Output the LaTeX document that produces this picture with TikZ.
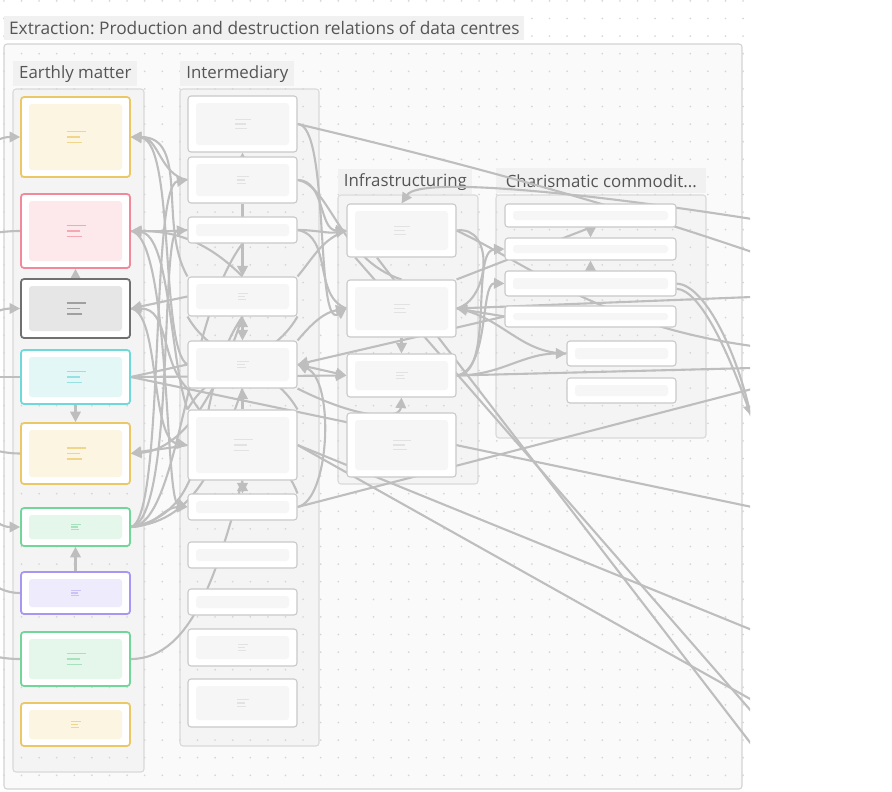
\documentclass[tikz,border=0pt]{standalone}
\usepackage{fontspec}
\setmainfont{Open Sans}
\usetikzlibrary{arrows.meta}
\frenchspacing

\definecolor{yelB}{HTML}{EBC766}
\definecolor{yelF}{HTML}{FCF5E1}
\definecolor{yelI}{HTML}{F0D68A}
\definecolor{redB}{HTML}{F2899A}
\definecolor{redF}{HTML}{FDE8EB}
\definecolor{redI}{HTML}{F5A8B4}
\definecolor{gryB}{HTML}{707070}
\definecolor{gryF}{HTML}{E6E6E6}
\definecolor{gryI}{HTML}{A0A0A0}
\definecolor{cynB}{HTML}{6FD8D8}
\definecolor{cynF}{HTML}{E3F7F6}
\definecolor{cynI}{HTML}{96E2E2}
\definecolor{grnB}{HTML}{72D69A}
\definecolor{grnF}{HTML}{E5F6EB}
\definecolor{grnI}{HTML}{A6E2BC}
\definecolor{purB}{HTML}{A996F2}
\definecolor{purF}{HTML}{EEEBFD}
\definecolor{purI}{HTML}{CCC2F7}
\definecolor{crdB}{HTML}{C9C9C9}
\definecolor{crdF}{HTML}{F6F6F6}
\definecolor{crdI}{HTML}{E2E2E2}
\definecolor{laneB}{HTML}{D9D9D9}
\definecolor{laneF}{HTML}{F4F4F4}
\definecolor{frmB}{HTML}{D3D3D3}
\definecolor{frmF}{HTML}{FAFAFA}
\definecolor{lblF}{HTML}{F1F1F1}
\definecolor{lblT}{HTML}{555555}
\definecolor{edgec}{HTML}{BEBEBE}
\definecolor{dotc}{HTML}{D6D6D6}

\pgfdeclarelayer{bg}
\pgfdeclarelayer{edgelayer}
\pgfsetlayers{bg,edgelayer,main}

\tikzset{
  card/.style 2 args={rectangle, rounded corners=1.7pt, draw=#1, line width=1pt, fill=white, inner sep=0pt,
    path picture={\fill[#2] ([shift={(8,-7)}]path picture bounding box.north west) rectangle ([shift={(-8,7)}]path picture bounding box.south east);}},
  plain/.style={card={crdB}{crdF}, line width=0.6pt},
  sz/.style 2 args={minimum width=#1*0.02cm, minimum height=#2*0.02cm},
  lane/.style={draw=laneB, fill=laneF, line width=0.6pt, rounded corners=1.7pt},
  grplabel/.style={fill=lblF, text=lblT, font=\fontsize{9.6pt}{11pt}\selectfont, inner sep=0pt, anchor=north west},
  rel/.style={draw=edgec, line width=1.2pt},
  >={Triangle[length=6pt,width=6pt]},
  txtmark/.pic={\draw[line width=0.6pt] (-9,5.5) -- (10,5.5) (-9,0) -- (4,0) (-9,-5.5) -- (6,-5.5);}
}

\begin{document}
\begin{tikzpicture}[x=0.02cm,y=0.02cm]
\useasboundingbox (0,0) rectangle (892,-791);

% earthly matter
\node[card={yelB}{yelF},sz={109}{80}] (em1) at (75.5,-137) {};
\node[card={redB}{redF},sz={109}{74}] (em2) at (75.5,-231) {};
\node[card={gryB}{gryF},sz={109}{59}] (em3) at (75.5,-308.5) {};
\node[card={cynB}{cynF},sz={109}{54}] (em4) at (75.5,-377) {};
\node[card={yelB}{yelF},sz={109}{61}] (em5) at (75.5,-453.5) {};
\node[card={grnB}{grnF},sz={109}{38}] (em6) at (75.5,-527) {};
\node[card={purB}{purF},sz={109}{42}] (em7) at (75.5,-593) {};
\node[card={grnB}{grnF},sz={109}{54}] (em8) at (75.5,-659) {};
\node[card={yelB}{yelF},sz={109}{43}] (em9) at (75.5,-724.5) {};

% intermediary
\node[plain,sz={109}{56}] (im1) at (242.5,-124) {};
\node[plain,sz={109}{46}] (im2) at (242.5,-180) {};
\node[plain,sz={109}{26}] (im3) at (242.5,-230) {};
\node[plain,sz={109}{39}] (im4) at (242.5,-296.5) {};
\node[plain,sz={109}{47}] (im5) at (242.5,-364.5) {};
\node[plain,sz={109}{70}] (im6) at (242.5,-445) {};
\node[plain,sz={109}{26}] (im7) at (242.5,-507) {};
\node[plain,sz={109}{26}] (im8) at (242.5,-555) {};
\node[plain,sz={109}{26}] (im9) at (242.5,-602) {};
\node[plain,sz={109}{37}] (im10) at (242.5,-647.5) {};
\node[plain,sz={109}{48}] (im11) at (242.5,-703) {};

% infrastructuring
\node[plain,sz={109}{53}] (in1) at (401.5,-230.5) {};
\node[plain,sz={109}{57}] (in2) at (401.5,-308.5) {};
\node[plain,sz={109}{43}] (in3) at (401.5,-375.5) {};
\node[plain,sz={109}{64}] (in4) at (401.5,-445) {};

% charismatic commodities
\node[plain,sz={171}{23}] (cc1) at (590.5,-215.5) {};
\node[plain,sz={171}{22}] (cc2) at (590.5,-249) {};
\node[plain,sz={171}{25}] (cc3) at (590.5,-283.5) {};
\node[plain,sz={171}{21}] (cc4) at (590.5,-316.5) {};
\node[plain,sz={109}{25}] (cc5) at (621.5,-353.5) {};
\node[plain,sz={109}{25}] (cc6) at (621.5,-390.5) {};

\foreach \n/\c/\s in {em1/yelI/1, em2/redI/1, em3/gryI/1, em4/cynI/1, em5/yelI/1, em6/grnI/0.5, em7/purI/0.5, em8/grnI/1, em9/yelI/0.5,
    im1/crdI/0.8, im2/crdI/0.6, im4/crdI/0.5, im5/crdI/0.6, im6/crdI/1, im10/crdI/0.5, im11/crdI/0.6,
    in1/crdI/0.8, in2/crdI/0.8, in3/crdI/0.6, in4/crdI/0.9}
  \pic[color=\c, scale=\s] at (\n) {txtmark};

% ends that leave the canvas
\coordinate (l1) at (-40,-165);
\coordinate (l2) at (-40,-236);
\coordinate (l3) at (-40,-335);
\coordinate (l4) at (-40,-377);
\coordinate (l5) at (-40,-445);
\coordinate (l6) at (-40,-495);
\coordinate (l7) at (-40,-560);
\coordinate (l8) at (-40,-645);
\coordinate (r218) at (752,-219);
\coordinate (r252) at (752,-252);
\coordinate (r297) at (752,-297);
\coordinate (r346) at (752,-346);
\coordinate (r365) at (752,-368);
\coordinate (r389) at (752,-389);
\coordinate (r416) at (751,-416);
\coordinate (r506) at (752,-507);
\coordinate (r628) at (752,-630);
\coordinate (r696) at (752,-700);
\coordinate (r710) at (752,-712);
\coordinate (r742) at (752,-745);

\begin{pgfonlayer}{bg}
\fill[white] (0,0) rectangle (892,-791);
\draw[draw=frmB, fill=frmF, line width=0.6pt, rounded corners=1.7pt] (4,-44) rectangle (742,-789);
\draw[lane] (13,-89) rectangle (144,-772);
\draw[lane] (180,-89) rectangle (319,-746);
\draw[lane] (338,-195) rectangle (478,-484);
\draw[lane] (496,-195) rectangle (706,-438);
\foreach \i in {0,...,42}
  \foreach \j in {0,...,45}
    \fill[dotc] (3.9+17.6*\i,-0.9-17.6*\j) circle[radius=0.55pt];
\node[grplabel, sz={520}{24}, font=\fontsize{9.85pt}{11pt}\selectfont] (title) at (4,-16) {Extraction: Production and destruction relations of data centres};
\node[grplabel, sz={124}{25}] (lbem) at (13,-61) {Earthly matter};
\node[grplabel, sz={114}{25}] (lbim) at (180,-61) {Intermediary};
\node[grplabel, sz={134}{25}] (lbin) at (338,-169) {Infrastructuring};
\node[grplabel, sz={210}{25}] (lbcc) at (496,-168) {Charismatic commodit...};
\end{pgfonlayer}

\begin{pgfonlayer}{edgelayer}
\clip (0,0) rectangle (750,-791);
% off the left edge
\draw[rel,->] (l1) to[out=30,in=180] (em1.west);
\draw[rel] (em2.west) to[out=180,in=0] (l2);
\draw[rel,->] (l3) to[out=30,in=180] (em3.west);
\draw[rel] (em4.west) -- (l4);
\draw[rel] (em5.west) to[out=180,in=0] (l5);
\draw[rel,->] (l6) to[out=-20,in=180] (em6.west);
\draw[rel] (em7.west) to[out=180,in=-30] (l7);
\draw[rel] (em8.west) to[out=180,in=-20] (l8);

% earthly matter column
\draw[rel,->] (em3) -- (em2);
\draw[rel,->] (em4) -- (em5);
\draw[rel,->] (em7) -- (em6);

% earthly matter and intermediary
\draw[rel,->] (im2.west) to[out=170,in=0] (em1.east);
\draw[rel,->] (im4.north west) to[out=120,in=0] (em1.east);
\draw[rel,->] (im5.west) .. controls (160,-350) and (175,-140) .. (em1.east);
\draw[rel,->] (em6.east) .. controls (165,-520) and (150,-185) .. (im2.west);
\draw[rel,->] (em6.east) .. controls (175,-520) and (160,-232) .. (im3.west);
\draw[rel,->] (im3.west) to[out=185,in=0] (em2.east);
\draw[rel,->] (im4.north) to[out=135,in=0] (em2.east);
\draw[rel,->] (im6.north west) .. controls (170,-360) and (170,-235) .. (em2.east);
\draw[rel,->] (im4.west) -- (em3.east);
\draw[rel,->] (im5.south west) to[out=135,in=0] (em3.east);
\draw[rel,->] (em3.east) .. controls (160,-312) and (150,-440) .. (im6.west);
\draw[rel] (em4.east) -- (im5.west);
\draw[rel,->] (em4.east) -- (in3.west);
\draw[rel] (em4.east) -- (r506);
\draw[rel,->] (im6.west) to[out=190,in=10] (em5.east);
\draw[rel,->] (im4.south) .. controls (215,-400) and (180,-450) .. (em5.east);
\draw[rel,->] (em6.east) to[out=0,in=180] (im7.west);
\draw[rel,->] (em2.east) .. controls (170,-235) and (165,-500) .. (im7.west);
\draw[rel] (em6.east) to[out=10,in=235] (im4.south);
\draw[rel] (em6.east) to[out=5,in=250] (im5.south);
\draw[rel] (em6.east) .. controls (180,-525) and (185,-320) .. (im3.south);
\draw[rel] (em8.east) .. controls (195,-659) and (220,-560) .. (im6.south);

% intermediary column
\draw[rel,->] (im2) -- (im1);
\draw[rel,->] (im2.south) -- (im4.north);
\draw[rel,<->] (im4) -- (im5);
\draw[rel,->] (im6) -- (im5);
\draw[rel,<->] (im6) -- (im7);
\draw[rel] (im4.south west) to[out=-60,in=120] (im6.north east);
\draw[rel] (im4.south east) to[out=-120,in=60] (im6.north west);
\draw[rel] (im5.south west) to[out=-70,in=110] (im7.north east);

% intermediary and infrastructuring
\draw[rel] (im1.east) .. controls (450,-160) and (600,-200) .. (r252);
\draw[rel,->] (im1.east) .. controls (330,-124) and (315,-330) .. (in2.west);
\draw[rel,->] (im2.east) to[out=0,in=180] (in1.west);
\draw[rel,->] (im3.east) to[out=0,in=190] (in1.west);
\draw[rel] (im3.east) to[out=-10,in=160] (in2.west);
\draw[rel] (im4.north east) to[out=50,in=200] (in1.west);
\draw[rel] (im2.east) .. controls (330,-185) and (340,-260) .. (in2.north);
\draw[rel,->] (im5.north east) to[out=50,in=190] (in2.west);
\draw[rel,->] (im5.east) -- (in3.west);
\draw[rel,->] (cc4.west) -- (im5.east);
\draw[rel,->] (im7.east) .. controls (330,-500) and (335,-380) .. (im5.east);
\draw[rel] (im6.east) -- (r628);
\draw[rel] (im6.east) -- (r696);
\draw[rel] (im7.east) -- (r389);
\draw[rel,->] (im5.south east) .. controls (360,-420) and (400,-420) .. (in3.south);

% infrastructuring column
\draw[rel,->] (r218) .. controls (600,-195) and (420,-175) .. (in1.north);
\draw[rel,->] (in2) -- (in3);
\draw[rel] (in1.east) .. controls (495,-225) and (490,-300) .. (in2.east);
\draw[rel] ([xshift=-14]in1.south) -- (r742);
\draw[rel] ([xshift=5]in1.south west) -- (r710);
\draw[rel] (in1.east) .. controls (530,-265) and (600,-325) .. (r346);

% infrastructuring and charismatic commodities
\draw[rel,->] (in3.east) to[out=0,in=180] (cc5.west);
\draw[rel,->] (in3.east) .. controls (495,-375) and (470,-250) .. (cc2.west);
\draw[rel,->] (in3.east) .. controls (490,-370) and (480,-283) .. (cc3.west);
\draw[rel] (in2.east) to[out=-10,in=180] (cc5.west);
\draw[rel,->] (cc4.west) -- (in2.east);
\draw[rel,->] (r297) -- (in2.east);
\draw[rel] (in3.east) -- (r365);
\draw[rel] (in2.north east) -- (cc1.south);

% charismatic commodities column
\draw[rel,->] (cc1) -- (cc2);
\draw[rel,->] (cc3) -- (cc2);
\draw[rel,->] (cc3.east) .. controls (705,-285) and (735,-350) .. (r416);
\draw[rel] ([yshift=-3]cc3.east) .. controls (700,-290) and (728,-350) .. (r416);
\end{pgfonlayer}
\end{tikzpicture}
\end{document}
